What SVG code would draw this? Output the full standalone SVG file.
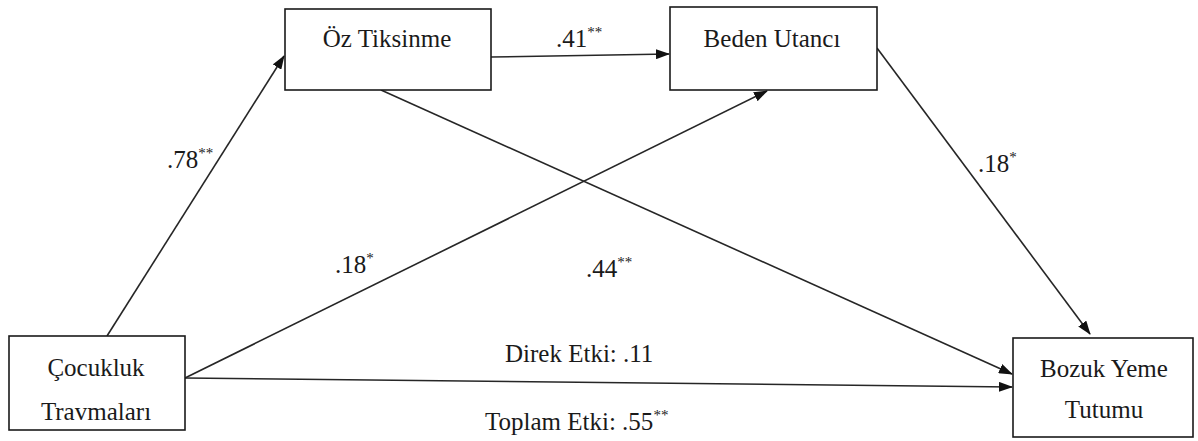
<svg xmlns="http://www.w3.org/2000/svg" width="1198" height="441" viewBox="0 0 1198 441">
  <style>
    .box { fill: #ffffff; stroke: #1a1a1a; stroke-width: 1.6; }
    text { font-family: 'Liberation Serif', 'DejaVu Serif', 'Times New Roman', serif; font-size: 25px; fill: #1a1a1a; }
    .mid { text-anchor: middle; }
    .sup { font-size: 15px; }
    .edge { stroke: #262626; stroke-width: 1.6; fill: none; marker-end: url(#arrow); }
  </style>
  <defs>
    <marker id="arrow" markerWidth="14" markerHeight="10" refX="13" refY="5" orient="auto" markerUnits="userSpaceOnUse">
      <path d="M0,0 L14,5 L0,10 Z" fill="#111111"/>
    </marker>
  </defs>

  <!-- connectors -->
  <g id="connectors">
    <line class="edge" x1="107" y1="336" x2="284" y2="56"/>
    <line class="edge" x1="491" y1="57" x2="669" y2="54"/>
    <line class="edge" x1="185" y1="378" x2="767" y2="91"/>
    <line class="edge" x1="381" y1="90" x2="1012" y2="374"/>
    <line class="edge" x1="877" y1="48" x2="1090" y2="334"/>
    <line class="edge" x1="185" y1="378" x2="1012" y2="387"/>
  </g>

  <!-- path coefficients -->
  <g id="labels" font-family="Liberation Serif, serif">
    <text x="167" y="168">.78<tspan class="sup" dy="-10">**</tspan></text>
    <text x="556" y="47">.41<tspan class="sup" dy="-10">**</tspan></text>
    <text x="978" y="172">.18<tspan class="sup" dy="-10">*</tspan></text>
    <text x="335" y="273">.18<tspan class="sup" dy="-10">*</tspan></text>
    <text x="586" y="277">.44<tspan class="sup" dy="-10">**</tspan></text>
    <text x="505" y="362">Direk Etki: .11</text>
    <text x="485" y="430">Toplam Etki: .55<tspan class="sup" dy="-10">**</tspan></text>
  </g>

  <g id="node-oz-tiksinme">
    <rect class="box" x="285" y="9" width="206" height="81"/>
    <text class="mid" x="387" y="47">Öz Tiksinme</text>
  </g>

  <g id="node-beden-utanci">
    <rect class="box" x="670" y="7" width="207" height="83"/>
    <text class="mid" x="772" y="47">Beden Utancı</text>
  </g>

  <g id="node-cocukluk-travmalari">
    <rect class="box" x="9" y="336" width="176" height="94"/>
    <text class="mid" x="96" y="376">Çocukluk</text>
    <text class="mid" x="96" y="420">Travmaları</text>
  </g>

  <g id="node-bozuk-yeme-tutumu">
    <rect class="box" x="1013" y="338" width="180" height="99"/>
    <text class="mid" x="1104" y="377">Bozuk Yeme</text>
    <text class="mid" x="1104" y="418">Tutumu</text>
  </g>
</svg>
